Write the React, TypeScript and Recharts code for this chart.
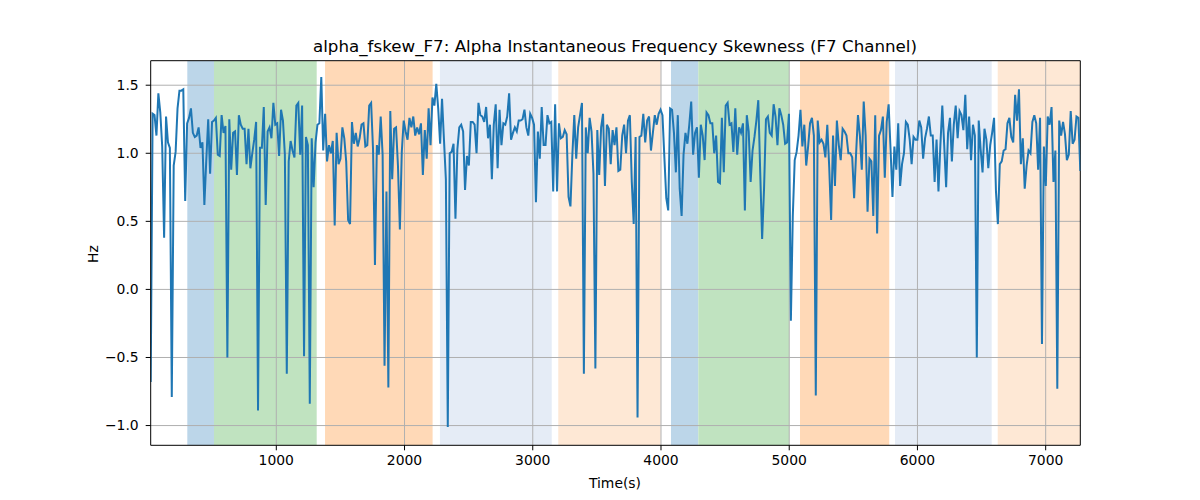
import React from 'react';
import { LineChart, Line, XAxis, YAxis, ReferenceArea, ReferenceLine } from 'recharts';

// alpha_fskew_F7 values, read left to right off the reference, in six stretches
const seg1 = [
  -0.68, 1.29, 1.28, 1.13, 1.44, 1.3, 1.05, 0.38, 1.27, 1.08,
  1.04, -0.79, 0.91, 1.01, 1.33, 1.46, 1.46, 1.47, 0.65, 1.22,
  1.26, 1.33, 1.15, 1.12, 1.13, 1.19, 1.04, 1.08, 0.62, 0.95,
  1.25, 0.85, 1.23, 1.24, 1.26, 0.99, 0.98, 1.28, 1.15, 1.2,
  -0.5, 1.25, 0.88, 1.15, 1.16, 0.84, 1.28, 1.21, 1.18, 1.18,
  0.92, 1.18, 0.89, 1.0, 1.1, 1.23, -0.89, 1.04, 1.04, 1.34,
  0.62, 1.16, 1.19, 1.11, 1.37, 1.21, 1.22, 0.98, 1.32, 1.24,
  0.99, -0.62, 0.94, 1.09, 1.02, 0.97, 1.35, 1.37, 0.99, 1.35,
  -0.49, 1.12, 1.06, -0.84,
];
const seg2 = [
  1.11, 0.75, 1.08, 1.21, 1.22, 1.56, 1.02, 1.29, 0.94, 1.06,
  1.0, 1.09, 0.47, 1.15, 0.92, 0.96, 1.19, 1.11, 0.94, 0.51,
  0.48, 1.23, 1.07, 1.15, 1.05, 1.11, 1.21, 1.22, 1.05, 1.06,
  1.35, 1.37, 1.03, 0.18, 1.06, 0.99, 1.27, 0.99, -0.56, 0.72,
  -0.72, 1.31, 0.81, 1.18, 1.19, 0.91, 0.44, 1.01, 1.24, 1.16,
  1.1, 1.26, 1.19, 1.27, 1.13, 1.19, 1.14, 1.22, 0.84, 1.17,
  0.96, 1.33, 1.06, 1.41, 1.35, 1.51, 1.33, 1.07, 1.4, 1.1,
  0.81, -1.01, 1.0, 1.01, 1.07, 0.52, 1.03, 1.19, 1.21, 1.16,
];
const seg3 = [
  0.73, 0.98, 0.91, 1.23, 1.23, 1.21, 1.0, 1.37, 1.28, 1.27,
  1.23, 1.34, 1.11, 1.21, 0.81, 1.21, 1.36, 0.89, 1.32, 1.06,
  1.22, 1.21, 1.27, 1.44, 1.1, 1.15, 1.19, 1.16, 1.24, 1.24,
  1.25, 1.32, 1.19, 1.13, 1.29, 1.26, 1.21, 0.64, 1.16, 0.96,
  1.34, 1.06, 1.06, 1.28, 1.22, 1.23, 0.72, 1.36, 0.72, 1.22,
  1.11, 1.12, 1.17, 1.14, 0.68, 0.61, 0.99, 1.28, 0.96, 1.19,
  1.28, 1.37, -0.62, 1.19, 1.0, 1.26, 1.16, 0.85, -0.58, 1.17,
  0.84, 1.19, 1.29, 0.76, 1.21, 1.18, 0.92, 1.17, 1.06, 1.19,
  0.87,
];
const seg4 = [
  0.88, 1.13, 1.21, 1.0, 1.24, 1.28, 0.79, 0.48, 1.12, -0.94,
  1.12, 1.13, 1.29, 1.08, 1.24, 1.27, 1.02, 1.15, 1.28, 1.21,
  1.29, 1.32, 1.28, 0.97, 0.67, 0.58, 1.33, 1.32, 1.15, 0.86,
  1.28, 0.74, 0.54, 0.99, 1.15, 1.07, 1.21, 1.38, 0.99, 1.15,
  1.19, 0.82, 1.21, 1.13, 0.95, 1.3, 1.28, 1.22, 1.22, 1.0,
  1.13, 0.79, 0.78, 1.26, 0.86, 1.35, 1.37, 1.21, 1.22, 1.01,
  1.33, 0.99, 1.19, 1.15, 1.22, 0.58, 1.28, 1.16, 0.79, 1.02,
  1.12, 1.24, 1.39, 0.86, 0.37, 0.74, 1.25, 1.27, 1.15, 1.13,
  1.36,
];
const seg5 = [
  1.27, 1.06, 1.33, 1.28, 1.21, 1.07, 1.08, 1.29, -0.23, 0.54,
  0.95, 1.01, 1.13, 1.32, 1.05, 1.21, 0.91, 1.05, 1.22, 1.26,
  1.13, -0.78, 1.24, 1.08, 1.1, 1.07, 0.97, 1.21, 0.9, 0.51,
  1.13, 0.76, 1.24, 1.06, 0.95, 1.18, 1.16, 1.13, 1.0, 1.0,
  0.97, 0.67, 0.99, 1.28, 1.13, 0.88, 1.38, 1.13, 0.57, 0.96,
  0.94, 0.54, 1.28, 0.41, 1.13, 1.17, 1.27, 0.82, 1.23, 1.36,
  1.03, 0.68, 1.05, 0.88, 1.22, 0.76, 0.92, 1.0, 1.23, 1.21,
  1.1, 0.92, 1.12, 1.1, 1.1, 1.24, 1.19, 0.96, 1.11, 1.18,
  1.27, 1.13,
];
const seg6 = [
  1.13, 0.79, 1.1, 0.72, 1.06, 1.35, 1.06, 0.75, 1.15, 1.26,
  0.94, 1.21, 1.35, 1.11, 1.31, 1.28, 1.17, 1.43, 1.03, 1.27,
  0.95, 1.21, 1.13, -0.5, 1.24, 1.03, 0.86, 1.18, 1.1, 0.89,
  1.06, 1.15, 1.26, 0.72, 0.48, 0.92, 0.94, 1.02, 1.03, 1.22,
  1.26, 1.12, 1.08, 1.43, 1.24, 1.47, 0.92, 1.11, 0.74, 0.91,
  1.02, 1.0, 1.23, 1.28, 1.22, 0.88, 1.26, -0.4, 1.05, 0.76,
  1.27, 1.21, 1.34, 0.79, 1.02, -0.73, 1.24, 1.13, 1.23, 1.14,
  0.95, 0.99, 1.31, 1.07, 1.1, 1.27, 1.26, 0.87,
];

const skew = [...seg1, ...seg2, ...seg3, ...seg4, ...seg5, ...seg6];

// samples are evenly spaced in time
const T_START = 20.5;
const T_END = 7270;
const Y_MIN = -1.145;
const Y_MAX = 1.68;

const data = skew.map((v, i) => ({
  t: T_START + (i * (T_END - T_START)) / (skew.length - 1),
  v,
}));

// shaded stages (axvspan)
const spans = [
  { x1: 306, x2: 514, fill: '#bcd6e9' },
  { x1: 514, x2: 1315, fill: '#c0e3c0' },
  { x1: 1380, x2: 2219, fill: '#ffd9b7' },
  { x1: 2276, x2: 3148, fill: '#e5ecf6' },
  { x1: 3199, x2: 3997, fill: '#fee8d5' },
  { x1: 4078, x2: 4291, fill: '#bcd6e9' },
  { x1: 4291, x2: 5000, fill: '#c0e3c0' },
  { x1: 5084, x2: 5780, fill: '#ffd9b7' },
  { x1: 5825, x2: 6579, fill: '#e5ecf6' },
  { x1: 6626, x2: 7270, fill: '#fee8d5' },
];

const xTicks = [1000, 2000, 3000, 4000, 5000, 6000, 7000];
const yTicks = [-1, -0.5, 0, 0.5, 1, 1.5];

const FONT = '"DejaVu Sans", sans-serif';
const tickStyle = { fontSize: 13.9, fill: '#000', fontFamily: FONT };

const fmtY = (v: number) => (v < 0 ? '\u2212' : '') + Math.abs(v).toFixed(1);

export default function App() {
  return (
    <div style={{ position: 'absolute', left: 0, top: 0, width: 1200, height: 500, background: '#fff' }}>
      <LineChart
        width={1200}
        height={500}
        data={data}
        margin={{ top: 60.7, right: 119.7, bottom: 24.7, left: 0 }}
      >
        <XAxis
          type="number"
          dataKey="t"
          domain={[T_START, T_END]}
          ticks={xTicks}
          allowDataOverflow
          height={30}
          tick={tickStyle}
          tickSize={5}
          tickMargin={5}
          stroke="#000"
        />
        <YAxis
          type="number"
          domain={[Y_MIN, Y_MAX]}
          ticks={yTicks}
          allowDataOverflow
          width={150.7}
          tick={tickStyle}
          tickSize={5}
          tickMargin={7}
          tickFormatter={fmtY}
          stroke="#000"
        />
        {spans.map((s, i) => (
          <ReferenceArea
            key={i}
            x1={s.x1}
            x2={s.x2}
            y1={Y_MIN}
            y2={Y_MAX}
            fill={s.fill}
            fillOpacity={1}
            stroke="none"
            ifOverflow="hidden"
          />
        ))}
        {xTicks.map((x) => (
          <ReferenceLine key={'gx' + x} x={x} stroke="#b0b0b0" strokeWidth={1} />
        ))}
        {yTicks.map((y) => (
          <ReferenceLine key={'gy' + y} y={y} stroke="#b0b0b0" strokeWidth={1} />
        ))}
        <ReferenceLine x={T_END} stroke="#000" strokeWidth={1} />
        <ReferenceLine y={Y_MAX} stroke="#000" strokeWidth={1} />
        <Line
          type="linear"
          dataKey="v"
          stroke="#1f77b4"
          strokeWidth={2}
          dot={false}
          activeDot={false}
          isAnimationActive={false}
        />
      </LineChart>
      <svg
        width={1200}
        height={500}
        style={{ position: 'absolute', left: 0, top: 0, pointerEvents: 'none' }}
      >
        <text x={615} y={52} textAnchor="middle" fontSize={16.7} fontFamily={FONT} fill="#000">
          alpha_fskew_F7: Alpha Instantaneous Frequency Skewness (F7 Channel)
        </text>
        <text x={615} y={487.5} textAnchor="middle" fontSize={13.9} fontFamily={FONT} fill="#000">
          Time(s)
        </text>
        <text
          x={98}
          y={254}
          textAnchor="middle"
          fontSize={13.9}
          fontFamily={FONT}
          fill="#000"
          transform="rotate(-90 98 254)"
        >
          Hz
        </text>
      </svg>
    </div>
  );
}
